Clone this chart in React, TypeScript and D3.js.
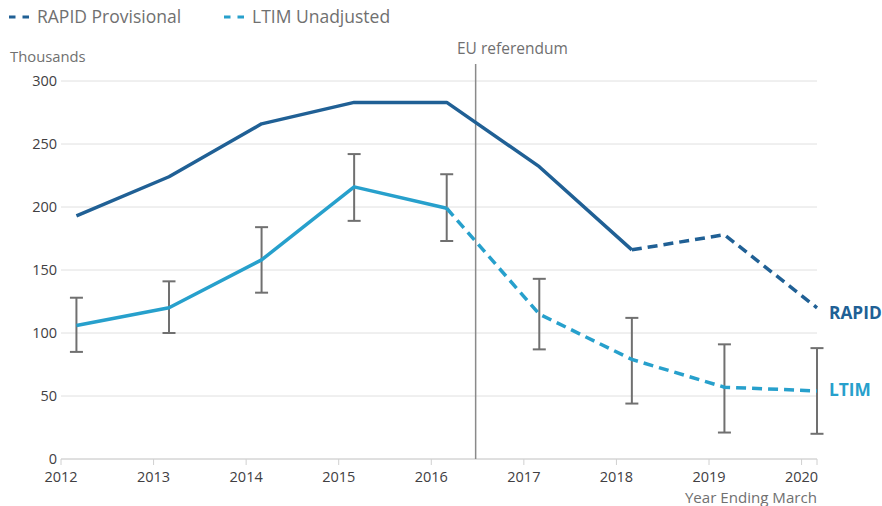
import React from 'react';
import * as d3 from 'd3';

const width = 882;
const height = 506;
const margin = { top: 81, right: 65, bottom: 47, left: 61 };

// years ending March
const years = [2012, 2013, 2014, 2015, 2016, 2017, 2018, 2019, 2020];
const rapid = [193, 224, 266, 283, 283, 232, 166, 178, 120];
const ltim = [106, 120, 158, 216, 199, 115, 79, 57, 54];
const ltimLow = [85, 100, 132, 189, 173, 87, 44, 21, 20];
const ltimHigh = [128, 141, 184, 242, 226, 143, 112, 91, 88];
const yTicks = [0, 50, 100, 150, 200, 250, 300];

const darkBlue = '#206095';
const lightBlue = '#27a0cc';
const font = '"Open Sans", sans-serif';

const App = () => {
  const x = d3.scaleLinear()
    .domain([2012, 2020 + 2 / 12])
    .range([margin.left, width - margin.right]);
  const y = d3.scaleLinear()
    .domain([0, 300])
    .range([height - margin.bottom, margin.top]);

  const px = (i: number) => x(years[i] + 2 / 12);
  const seg = (vals: number[], from: number, to: number) =>
    d3.line<number>().x(i => px(i)).y(i => y(vals[i]))(d3.range(from, to + 1));

  const referendum = x(2016 + 5.75 / 12);
  const bottom = height - margin.bottom;

  return (
    <svg width={width} height={height} style={{ position: 'absolute', left: 0, top: 0 }} fontFamily={font}>
      {/* legend */}
      <g>
        <line x1={9} x2={29} y1={17} y2={17} stroke={darkBlue} strokeWidth={3} strokeDasharray="6.5,7" />
        <text x={37} y={23} fontSize={17.5} fill="#707070">RAPID Provisional</text>
        <line x1={224} x2={244} y1={17} y2={17} stroke={lightBlue} strokeWidth={3} strokeDasharray="6.5,7" />
        <text x={252} y={23} fontSize={17.5} fill="#707070">LTIM Unadjusted</text>
      </g>
      <text x={10} y={62} fontSize={14.8} fill="#707070">Thousands</text>

      {/* grid + y axis */}
      {yTicks.map(t => (
        <g key={t}>
          <line x1={margin.left} x2={width - margin.right} y1={y(t)} y2={y(t)} stroke="#e0e0e0" strokeWidth={1} />
          <text x={57} y={y(t) + 5} fontSize={14.5} textAnchor="end" fill="#414042">{t}</text>
        </g>
      ))}

      {/* x axis */}
      <line x1={margin.left} x2={width - margin.right} y1={bottom} y2={bottom} stroke="#d0d0d0" strokeWidth={1} />
      <line x1={width - margin.right} x2={width - margin.right} y1={bottom} y2={bottom + 6} stroke="#d0d0d0" />
      {years.map(yr => (
        <g key={yr}>
          <line x1={x(yr)} x2={x(yr)} y1={bottom} y2={bottom + 6} stroke="#d0d0d0" />
          <text x={x(yr)} y={bottom + 23} fontSize={14.5} textAnchor="middle" fill="#414042">{yr}</text>
        </g>
      ))}
      <text x={width - margin.right} y={503} fontSize={15.1} textAnchor="end" fill="#707070">Year Ending March</text>

      {/* referendum */}
      <line x1={referendum} x2={referendum} y1={64} y2={bottom} stroke="#8a8a8a" strokeWidth={1.5} />
      <text x={457} y={54} fontSize={15.5} fill="#707070">EU referendum</text>

      {/* error bars */}
      {years.map((yr, i) => (
        <g key={'e' + yr} stroke="#707070" strokeWidth={2}>
          <line x1={px(i)} x2={px(i)} y1={y(ltimLow[i])} y2={y(ltimHigh[i])} />
          <line x1={px(i) - 6.5} x2={px(i) + 6.5} y1={y(ltimLow[i])} y2={y(ltimLow[i])} />
          <line x1={px(i) - 6.5} x2={px(i) + 6.5} y1={y(ltimHigh[i])} y2={y(ltimHigh[i])} />
        </g>
      ))}

      {/* LTIM */}
      <path d={seg(ltim, 0, 4) || ''} fill="none" stroke={lightBlue} strokeWidth={3.5} strokeLinejoin="round" />
      <path d={seg(ltim, 4, 8) || ''} fill="none" stroke={lightBlue} strokeWidth={3.5} strokeDasharray="10,6" />

      {/* RAPID */}
      <path d={seg(rapid, 0, 6) || ''} fill="none" stroke={darkBlue} strokeWidth={3.5} strokeLinejoin="round" />
      <path d={seg(rapid, 6, 8) || ''} fill="none" stroke={darkBlue} strokeWidth={3.5} strokeDasharray="10,6" />

      <text x={829} y={y(rapid[8]) + 11} fontSize={17.3} fontWeight="bold" fill={darkBlue}>RAPID</text>
      <text x={829} y={y(ltim[8]) + 5} fontSize={17.3} fontWeight="bold" fill={lightBlue}>LTIM</text>
    </svg>
  );
};

export default App;
